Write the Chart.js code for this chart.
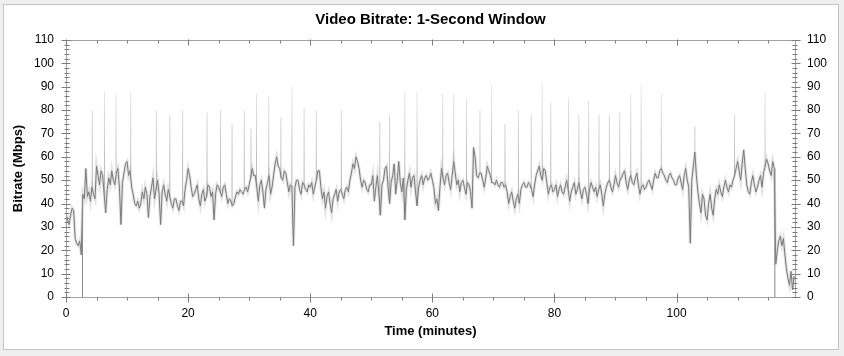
<!DOCTYPE html>
<html>
<head>
<meta charset="utf-8">
<title>Video Bitrate: 1-Second Window</title>
<script src="https://cdn.jsdelivr.net/npm/chart.js@4.4.1/dist/chart.umd.min.js"></script>
<style>
    html, body { margin: 0; padding: 0; background: #efefef; }
    .chart-box {
        position: absolute;
        left: 3px;
        top: 4px;
        width: 834px;
        height: 344px;
        border: 1px solid #c4c4c4;
        background: #fff;
    }
    canvas { display: block; }
</style>
</head>
<body>
<div class="chart-box"><canvas id="bitrate" width="834" height="344"></canvas></div>
<script>
(function () {
    'use strict';

    // one sample every quarter minute, Mbps (20 per row = 5 minutes)
    var STEP = 0.25;
    var bitrate = [
        36, 33, 31, 35, 38, 37, 25, 23, 22, 24, 18, 44, 42, 55, 43, 45, 41, 47, 44, 42,   // 0
        56, 52, 48, 54, 52, 44, 36, 46, 51, 48, 54, 50, 48, 53, 55, 47, 31, 49, 53, 57,   // 5
        58, 52, 54, 47, 44, 40, 39, 41, 38, 40, 45, 42, 47, 44, 34, 43, 47, 51, 42, 46,   // 10
        50, 44, 31, 45, 48, 44, 41, 46, 43, 40, 38, 42, 42, 39, 37, 41, 41, 39, 46, 50,   // 15
        55, 52, 47, 43, 44, 46, 48, 42, 39, 44, 46, 41, 43, 48, 47, 43, 45, 33, 44, 48,   // 20
        47, 45, 43, 47, 48, 44, 40, 42, 41, 39, 40, 43, 45, 44, 46, 45, 44, 46, 47, 45,   // 25
        48, 51, 55, 52, 52, 47, 41, 48, 50, 45, 38, 46, 49, 52, 44, 47, 52, 57, 60, 56,   // 30
        55, 51, 50, 54, 53, 49, 45, 48, 47, 22, 47, 50, 50, 46, 44, 49, 48, 46, 45, 48,   // 35
        47, 49, 44, 47, 50, 54, 54, 47, 42, 45, 38, 43, 45, 40, 36, 42, 44, 46, 41, 45,   // 40
        46, 44, 42, 46, 47, 45, 50, 53, 57, 55, 60, 58, 55, 50, 47, 50, 49, 46, 45, 48,   // 45
        48, 52, 41, 47, 52, 44, 35, 48, 50, 55, 56, 47, 40, 49, 52, 57, 44, 50, 58, 49,   // 50
        45, 51, 33, 46, 50, 53, 47, 51, 52, 45, 39, 47, 50, 52, 48, 51, 52, 50, 51, 53,   // 55
        50, 47, 40, 42, 37, 47, 55, 51, 48, 52, 53, 49, 46, 52, 58, 53, 48, 50, 45, 49,   // 60
        50, 47, 44, 49, 48, 45, 38, 64, 60, 52, 51, 53, 53, 50, 47, 51, 56, 54, 52, 49,   // 65
        49, 48, 50, 48, 47, 49, 49, 47, 48, 45, 40, 43, 45, 41, 38, 42, 44, 40, 46, 48,   // 70
        49, 47, 47, 49, 48, 46, 43, 48, 52, 54, 56, 52, 50, 55, 54, 49, 44, 47, 48, 45,   // 75
        46, 48, 43, 46, 48, 45, 44, 47, 50, 46, 41, 45, 47, 49, 44, 46, 49, 45, 42, 46,   // 80
        47, 44, 40, 46, 49, 47, 45, 47, 43, 46, 48, 44, 39, 44, 47, 49, 50, 47, 45, 48,   // 85
        52, 49, 47, 50, 51, 53, 54, 49, 46, 50, 52, 49, 48, 51, 53, 48, 44, 47, 48, 46,   // 90
        47, 49, 50, 48, 46, 50, 53, 51, 51, 54, 55, 53, 52, 50, 49, 52, 53, 51, 50, 48,   // 95
        48, 51, 52, 49, 46, 52, 55, 50, 47, 23, 50, 56, 62, 52, 45, 40, 36, 44, 42, 35,   // 100
        33, 40, 44, 38, 35, 42, 46, 44, 48, 45, 43, 47, 50, 47, 45, 48, 47, 50, 52, 55,   // 105
        58, 54, 50, 57, 63, 55, 48, 45, 44, 49, 52, 48, 45, 47, 50, 52, 47, 53, 56, 59,   // 110
        57, 54, 52, 58, 55, 14, 20, 24, 26, 22, 25, 18, 12, 8, 5, 11, 3, 9                // 115
    ];

    // short peaks above the running line (minute, peak Mbps)
    var spikeTimes = [4.3, 6.3, 8.2, 10.6, 14.8, 17, 19.1, 23.1, 25.3, 27.2, 29.2, 30.3, 31.2, 33.2, 35.2,
        37, 39, 41, 45.1, 51.4, 53, 55.5, 57.5, 61.7, 63.5, 65.6, 67.8, 69.7, 71.9, 74.1, 76.2, 78, 79.4,
        82.3, 84, 85.6, 87.3, 89, 90.7, 92.5, 94.2, 97.5, 103, 109.5, 114.5];
    var spikeTops = [80, 88, 87, 88, 80, 78, 80, 79, 80, 74, 80, 72, 87, 86, 77,
        90, 81, 80, 80, 75, 78, 88, 88, 87, 87, 85, 80, 91, 74, 80, 78, 92, 83,
        85, 78, 84, 78, 78, 79, 87, 91, 87, 73, 78, 88];

    // drop-outs to zero (minute, Mbps the line returns to)
    var dropTimes = [2.7, 116.1];
    var dropTops = [44, 55];

    var xTicks = [0, 20, 40, 60, 80, 100];
    var xMax = 119.4;
    var yMax = 110;

    var linePoints = bitrate.map(function (v, i) {
        return { x: i * STEP, y: v };
    });

    function verticals (times, lows, highs) {
        var pts = [];
        times.forEach(function (t, i) {
            pts.push({ x: t, y: lows[i] });
            pts.push({ x: t, y: highs[i] });
            pts.push({ x: t, y: null });
        });
        return pts;
    }

    var spikeBases = spikeTimes.map(function (t) {
        return bitrate[Math.round(t / STEP)];
    });
    var dropBases = dropTimes.map(function () {
        return 0;
    });

    function spikeColor (context) {
        var chart = context.chart,
            area = chart.chartArea,
            y = chart.scales.y,
            grad;
        if (!area) {
            return "#c8c8c8";
        }
        grad = chart.ctx.createLinearGradient(0, y.getPixelForValue(50), 0, y.getPixelForValue(92));
        grad.addColorStop(0, "#b4b4b4");
        grad.addColorStop(1, "#ececec");
        return grad;
    }

    // axis frame with major / minor tick marks on all four sides
    var frameTicks = {
        id: "frameTicks",
        afterDatasetsDraw: function (chart) {
            var ctx = chart.ctx,
                area = chart.chartArea,
                xs = chart.scales.x,
                ys = chart.scales.y,
                left = Math.round(area.left) + 0.5,
                right = Math.round(area.right) + 0.5,
                top = Math.round(area.top) + 0.5,
                bottom = Math.round(area.bottom) + 0.5,
                v, p, major;

            ctx.save();
            ctx.lineWidth = 1;
            ctx.strokeStyle = "#a2a2a2";
            ctx.strokeRect(left, top, right - left, bottom - top);

            ctx.strokeStyle = "#7c7c7c";
            ctx.beginPath();
            for (v = 0; v <= xMax; v += 5) {
                p = Math.round(xs.getPixelForValue(v)) + 0.5;
                major = xTicks.indexOf(v) !== -1;
                ctx.moveTo(p, bottom + (major ? -4 : 0));
                ctx.lineTo(p, bottom + (major ? 5 : 3));
                ctx.moveTo(p, top + (major ? -1 : 0));
                ctx.lineTo(p, top + (major ? 5 : 3));
            }
            for (v = 0; v <= yMax; v += 2) {
                p = Math.round(ys.getPixelForValue(v)) + 0.5;
                major = v % 10 === 0;
                ctx.moveTo(left - (major ? 5 : 2), p);
                ctx.lineTo(left + (major ? 4 : 3), p);
                ctx.moveTo(right - (major ? 4 : 3), p);
                ctx.lineTo(right + (major ? 5 : 2), p);
            }
            ctx.stroke();
            ctx.restore();
        }
    };

    Chart.defaults.font.family = "'Liberation Sans', Arial, sans-serif";
    Chart.defaults.color = "#111";

    var tickFont = { size: 12 },
        titleFont = { size: 13, weight: "bold" };

    new Chart(document.getElementById("bitrate"), {
        type: "line",
        data: {
            datasets: [
                {
                    label: "Bitrate",
                    data: linePoints,
                    borderColor: "#7a7a7a",
                    borderWidth: 1,
                    order: 1
                },
                {
                    label: "Bitrate band",
                    data: linePoints,
                    borderColor: "rgba(160, 160, 160, 0.3)",
                    borderWidth: 3,
                    order: 2
                },
                {
                    label: "Peaks",
                    data: verticals(spikeTimes, spikeBases, spikeTops),
                    borderColor: spikeColor,
                    borderWidth: 1,
                    spanGaps: false,
                    order: 3
                },
                {
                    label: "Drop-outs",
                    data: verticals(dropTimes, dropBases, dropTops),
                    borderColor: "#8a8a8a",
                    borderWidth: 1,
                    spanGaps: false,
                    order: 0
                }
            ]
        },
        options: {
            responsive: false,
            devicePixelRatio: 1,
            animation: false,
            events: [],
            elements: {
                point: { radius: 0 },
                line: { tension: 0, fill: false }
            },
            layout: { padding: 0 },
            plugins: {
                legend: { display: false },
                tooltip: { enabled: false },
                title: {
                    display: true,
                    fullSize: false,
                    text: "Video Bitrate: 1-Second Window",
                    color: "#000",
                    font: { size: 15, weight: "bold" },
                    padding: { top: 6, bottom: 11 }
                }
            },
            scales: {
                x: {
                    type: "linear",
                    min: 0,
                    max: xMax,
                    grid: { display: false, drawTicks: false },
                    border: { display: false },
                    ticks: {
                        stepSize: 20,
                        includeBounds: false,
                        maxRotation: 0,
                        padding: 9,
                        font: tickFont,
                        color: "#000"
                    },
                    title: {
                        display: true,
                        text: "Time (minutes)",
                        color: "#000",
                        font: titleFont,
                        padding: { top: 0, bottom: 10 }
                    },
                    afterFit: function (scale) {
                        scale.height = 52;
                    }
                },
                y: {
                    position: "left",
                    min: 0,
                    max: yMax,
                    grid: { display: false, drawTicks: false },
                    border: { display: false },
                    ticks: { stepSize: 10, padding: 12, font: tickFont, color: "#000" },
                    title: {
                        display: true,
                        text: "Bitrate (Mbps)",
                        color: "#000",
                        font: titleFont,
                        padding: { top: 7, bottom: 0 }
                    },
                    afterFit: function (scale) {
                        scale.width = 62;
                    }
                },
                y2: {
                    position: "right",
                    min: 0,
                    max: yMax,
                    grid: { display: false, drawTicks: false },
                    border: { display: false },
                    ticks: { stepSize: 10, padding: 12, font: tickFont, color: "#000" },
                    afterFit: function (scale) {
                        scale.width = 43;
                    }
                }
            }
        },
        plugins: [frameTicks]
    });
}());
</script>
</body>
</html>
